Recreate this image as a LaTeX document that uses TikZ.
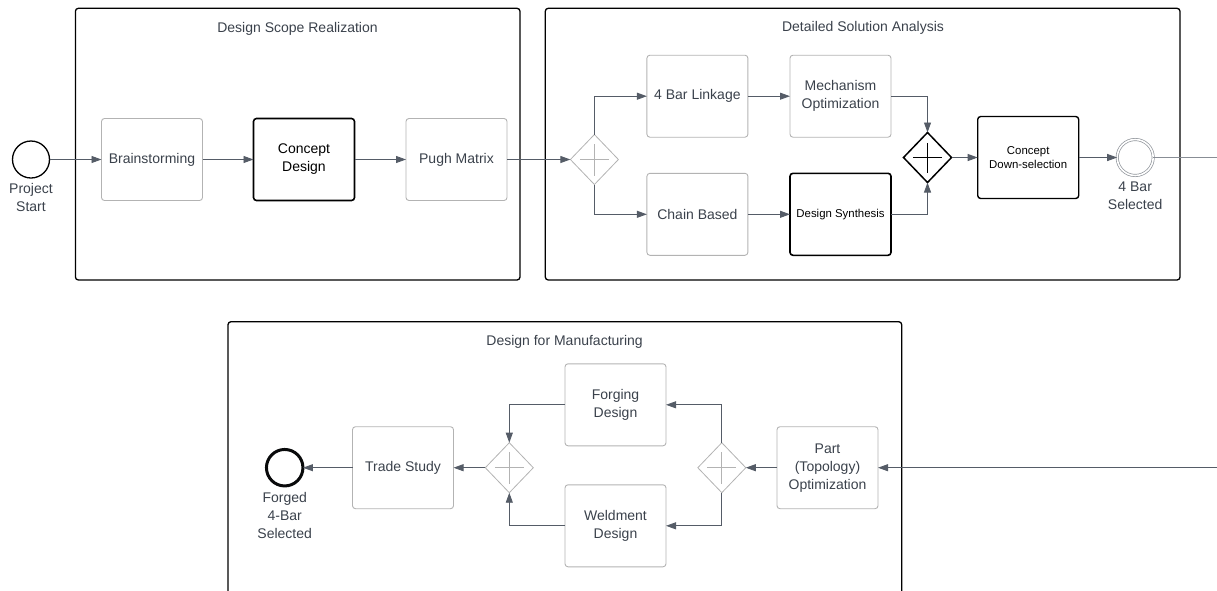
\documentclass[tikz,border=0pt]{standalone}
\usepackage{fontspec}
\setmainfont{Liberation Sans}
\usetikzlibrary{arrows.meta,shapes.geometric}

\definecolor{ink}{HTML}{3A414B}
\definecolor{wire}{HTML}{555C67}
\definecolor{softline}{HTML}{B3B3B3}
\definecolor{ringgray}{HTML}{8F949A}

\newcommand{\mainsize}{\fontsize{14}{18}\selectfont}
\newcommand{\smallsize}{\fontsize{11.4}{14.5}\selectfont}

\tikzset{
  frame/.style={draw=black, line width=1.3pt, rounded corners=3pt},
  frametitle/.style={text=ink, font=\mainsize, inner sep=0pt},
  task/.style={rectangle, draw=softline, line width=0.9pt, rounded corners=3pt,
    minimum width=101pt, minimum height=82pt, inner sep=2pt, outer sep=0pt,
    align=center, text=ink, font=\mainsize},
  keytask/.style={task, draw=black, line width=1.6pt, text=black},
  gate/.style={diamond, draw=softline, line width=0.8pt, minimum width=48pt,
    minimum height=50pt, inner sep=0pt, outer sep=0pt,
    path picture={\draw[softline, line width=0.8pt]
      ([xshift=-14.5pt]path picture bounding box.center) -- ([xshift=14.5pt]path picture bounding box.center)
      ([yshift=-16pt]path picture bounding box.center) -- ([yshift=16pt]path picture bounding box.center);}},
  keygate/.style={gate, draw=black, line width=1.5pt,
    path picture={\draw[black, line width=1.3pt]
      ([xshift=-14.5pt]path picture bounding box.center) -- ([xshift=14.5pt]path picture bounding box.center)
      ([yshift=-15pt]path picture bounding box.center) -- ([yshift=15pt]path picture bounding box.center);}},
  startevent/.style={circle, draw=black, line width=1.3pt, minimum size=37pt, inner sep=0pt, outer sep=0pt},
  midevent/.style={circle, draw=ringgray, line width=0.7pt, double=white, double distance=1.6pt,
    minimum size=36pt, inner sep=0pt, outer sep=0pt},
  endevent/.style={circle, draw=black!85!ink, line width=3pt, minimum size=36.5pt, inner sep=0pt, outer sep=0pt},
  eventlabel/.style={align=center, text=ink, font=\mainsize, inner sep=0pt},
  flow/.style={draw=wire, line width=0.9pt, -{Triangle[length=10pt,width=7pt]}},
  plainflow/.style={draw=wire!70, line width=0.9pt}
}

\begin{document}
\begin{tikzpicture}[x=1pt,y=-1pt]
  \useasboundingbox (0,0) rectangle (1217,590);
  \clip (0,0) rectangle (1217,590);

  % ---- pools ----
  \draw[frame] (75.4,8.3) rectangle (520,280);
  \draw[frame] (545.3,8.3) rectangle (1180,280);
  \draw[frame] (228,321.7) rectangle (901.7,610);

  \node[frametitle] (titleA) at (297.5,29) {Design Scope Realization};
  \node[frametitle] (titleB) at (863,28) {Detailed Solution Analysis};
  \node[frametitle] (titleC) at (564.6,342) {Design for Manufacturing};

  % ---- first row ----
  \node[startevent] (start) at (31,159.5) {};
  \node[eventlabel] (startlbl) at (31,197) {Project\\Start};
  \node[task] (brain) at (152,159.5) {Brainstorming};
  \node[keytask] (concept) at (304,159.5) {Concept\\Design};
  \node[task] (pugh) at (456.5,159.5) {Pugh Matrix};

  \node[gate] (split) at (594.4,159.5) {};
  \node[task] (linkage) at (697.4,96.2) {4 Bar Linkage};
  \node[task] (mech) at (840.5,96.2) {Mechanism\\Optimization};
  \node[task] (chain) at (697.4,214.3) {Chain Based};
  \node[keytask, font=\smallsize] (synth) at (840.5,214.3) {Design Synthesis};
  \node[keygate] (join) at (927.5,157.5) {};
  \node[keytask, line width=1.4pt, font=\smallsize] (downsel) at (1028.2,157.5) {Concept\\Down-selection};
  \node[midevent] (selected) at (1135.2,157.5) {};
  \node[eventlabel] (selectedlbl) at (1135.2,195.5) {4 Bar\\Selected};
  \coordinate (exitA) at (1217,157.5);

  % ---- second row ----
  \coordinate (entryB) at (1217,467.7);
  \node[task] (part) at (827.5,467.7) {Part\\(Topology)\\Optimization};
  \node[gate] (fork) at (721.8,467.7) {};
  \node[task] (forge) at (615.5,404.8) {Forging\\Design};
  \node[task] (weld) at (615.5,525.8) {Weldment\\Design};
  \node[gate] (merge) at (509.3,467.7) {};
  \node[task] (trade) at (403,467.7) {Trade Study};
  \node[endevent] (finish) at (284.7,467.7) {};
  \node[eventlabel] (finishlbl) at (284.7,515) {Forged\\4-Bar\\Selected};

  % ---- sequence flows ----
  \draw[flow] (start) -- (brain);
  \draw[flow] (brain) -- (concept);
  \draw[flow] (concept) -- (pugh);
  \draw[flow] (pugh) -- (split.west);
  \draw[flow] (split.north) |- (linkage.west);
  \draw[flow] (split.south) |- (chain.west);
  \draw[flow] (linkage) -- (mech);
  \draw[flow] (chain) -- (synth);
  \draw[flow] (mech.east) -| (join.north);
  \draw[flow] (synth.east) -| (join.south);
  \draw[flow] (join.east) -- (downsel.west);
  \draw[flow] (downsel) -- (selected);
  \draw[plainflow] (selected.east) -- (exitA);

  \draw[flow] (entryB) -- (part.east);
  \draw[flow] (part.west) -- (fork.east);
  \draw[flow] (fork.north) |- (forge.east);
  \draw[flow] (fork.south) |- (weld.east);
  \draw[flow] (forge.west) -| (merge.north);
  \draw[flow] (weld.west) -| (merge.south);
  \draw[flow] (merge.west) -- (trade.east);
  \draw[flow] (trade.west) -- (finish.east);
\end{tikzpicture}
\end{document}
